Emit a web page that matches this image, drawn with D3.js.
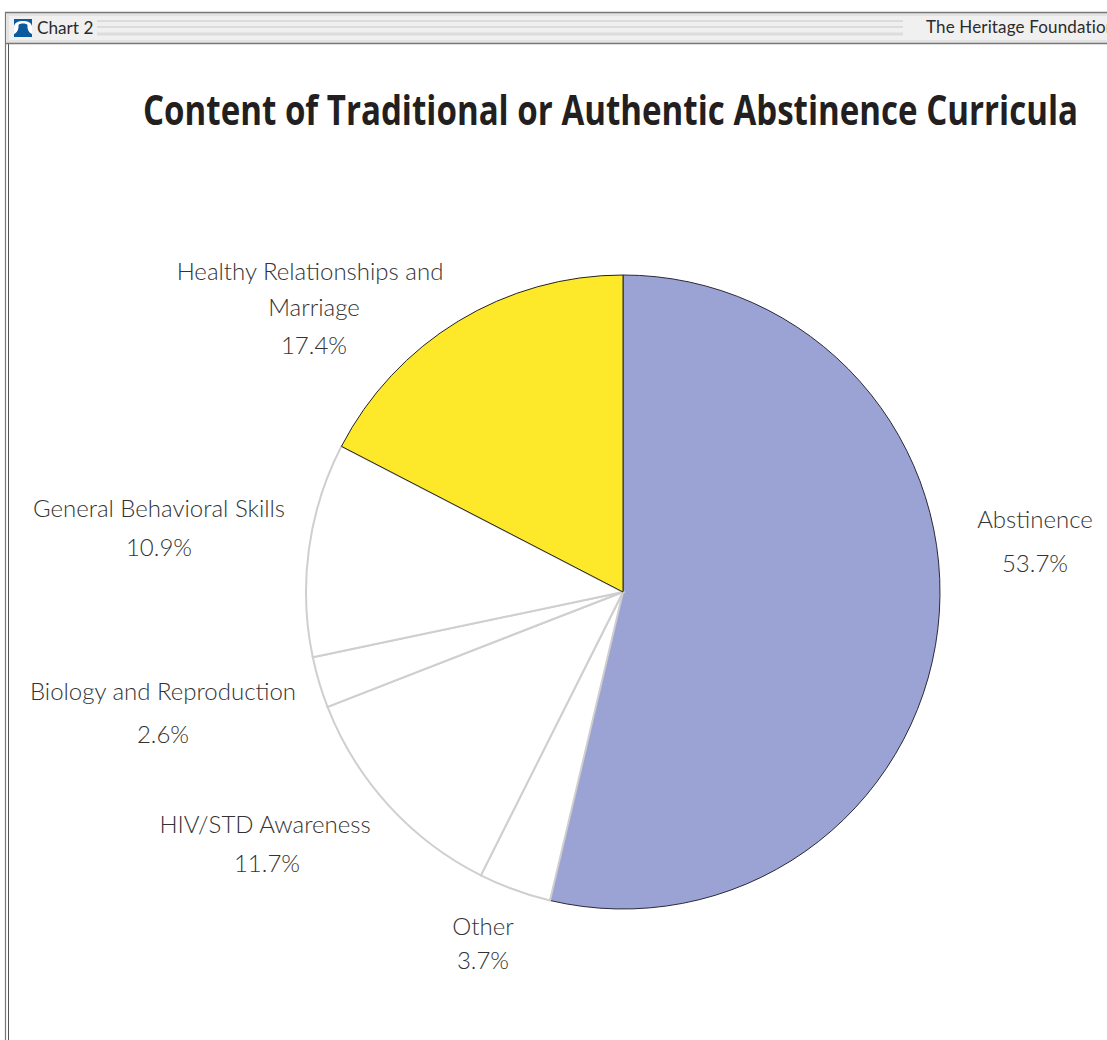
<!DOCTYPE html>
<html><head><meta charset="utf-8">
<script src="https://cdn.jsdelivr.net/npm/d3@7"></script>
<style>html,body{margin:0;padding:0;background:#fff;overflow:hidden}svg{display:block}</style>
</head><body><svg id="c" width="1107" height="1040"></svg>
<script>
const categories = ["Abstinence","Other","HIV/STD Awareness","Biology and Reproduction","General Behavioral Skills","Healthy Relationships and Marriage"];
const values = [53.7,3.7,11.7,2.6,10.9,17.4];
const fills = ["#9ba3d4","#ffffff","#ffffff","#ffffff","#ffffff","#fde92a"];
const strokes = ["#2a2a3a","#cfcfcf","#cfcfcf","#cfcfcf","#cfcfcf","#222222"];
const labelLines = [
 [["Abstinence",1035,528],["53.7%",1035,572]],
 [["Other",483,935],["3.7%",483,969]],
 [["HIV/STD Awareness",265,833],["11.7%",267,872]],
 [["Biology and Reproduction",163,700],["2.6%",163,743]],
 [["General Behavioral Skills",159,517],["10.9%",159,556]],
 [["Healthy Relationships and",310,280],["Marriage",314,316],["17.4%",314,354]]
];
const svg = d3.select("#c");
// frame
svg.append("line").attr("x1",5.5).attr("x2",5.5).attr("y1",12).attr("y2",1040).attr("stroke","#777").attr("stroke-width",1.2);
svg.append("line").attr("x1",8.5).attr("x2",8.5).attr("y1",44).attr("y2",1040).attr("stroke","#555").attr("stroke-width",1);
svg.append("rect").attr("x",6).attr("y",12).attr("width",1101).attr("height",32).attr("fill","#e3e3e3");
svg.append("rect").attr("x",9).attr("y",16).attr("width",1098).attr("height",24).attr("fill","#f0f0f0");
svg.append("line").attr("x1",5).attr("x2",1107).attr("y1",12.5).attr("y2",12.5).attr("stroke","#777").attr("stroke-width",1.4);
svg.append("line").attr("x1",5).attr("x2",1107).attr("y1",43.5).attr("y2",43.5).attr("stroke","#777").attr("stroke-width",1.4);
[[20,2],[26,2],[32.5,3]].forEach(([y,h])=>svg.append("rect").attr("x",97).attr("width",806).attr("y",y).attr("height",h).attr("fill","#dcdcdc"));
// bell
svg.append("rect").attr("x",14).attr("y",19).attr("width",18).attr("height",18).attr("fill","#0b5a9e");
svg.append("path").attr("d","M14 26 C15 22 19 21 23 21 C27 21 31 22 32 26 L32 34 C29 33 27 29 27.5 25 C26.5 23 19.5 23 18.5 25 C19 29 17 33 14 34 Z").attr("fill","#fff");
svg.append("text").attr("x",37).attr("y",34).attr("font-family","Lato").attr("font-size",17.2).attr("fill","#2b2b2b").text("Chart 2");
svg.append("text").attr("x",926).attr("y",33).attr("font-family","Lato").attr("font-size",17).attr("letter-spacing",0.15).attr("fill","#2b2b2b").text("The Heritage Foundation");
// title
svg.append("text").attr("x",143).attr("y",125).attr("textLength",935).attr("lengthAdjust","spacingAndGlyphs").attr("font-family","'Open Sans'").attr("font-weight",700).attr("font-size",41).attr("fill","#231f20").text("Content of Traditional or Authentic Abstinence Curricula");
// pie
const cx=623, cy=592, R=317;
const pie = d3.pie().value(d=>d).sort(null);
const arc = d3.arc().innerRadius(0).outerRadius(R);
const g = svg.append("g").attr("transform",`translate(${cx},${cy})`);
g.selectAll("path").data(pie(values)).join("path")
  .attr("d",arc).attr("fill",(d,i)=>fills[i]).attr("stroke",(d,i)=>strokes[i])
  .attr("stroke-width",(d,i)=>i==0||i==5?1:2);
// labels
labelLines.forEach(ls=>ls.forEach(([t,x,y])=>{
  svg.append("text").attr("x",x).attr("y",y).attr("text-anchor","middle").attr("font-family","Lato").attr("font-weight",300).attr("font-size",24).attr("fill","#333").text(t);
}));
</script></body></html>
